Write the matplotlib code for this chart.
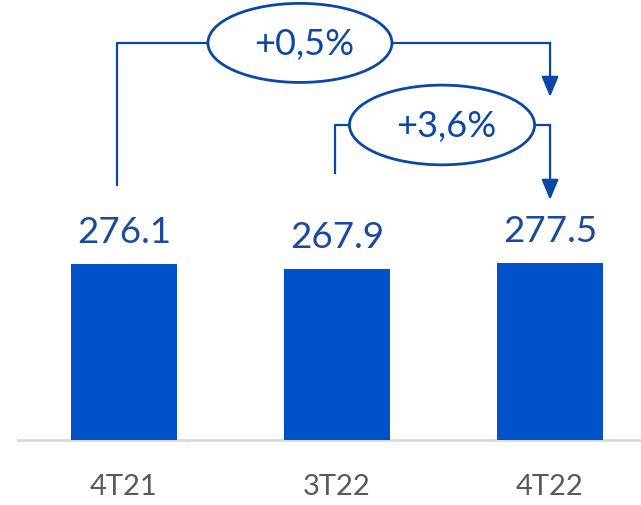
import matplotlib
matplotlib.use("Agg")
import matplotlib.pyplot as plt
from matplotlib.patches import Ellipse

plt.rcParams['font.family'] = ['Lato', 'DejaVu Sans']

trimestres = ['4T21', '3T22', '4T22']
valores = [276.1, 267.9, 277.5]
variaciones = ['+0,5%', '+3,6%']

azul_barra = '#0050c6'
azul_texto = '#1b4a9c'
azul_linea = '#0c47a6'
gris = '#595959'

fig = plt.figure(figsize=(6.41, 5.05), dpi=100)
ax = fig.add_axes([0, 0, 1, 1])
ax.set_xlim(-0.582, 2.427)
ax.set_ylim(-102, 690)
ax.axis('off')

x = list(range(len(trimestres)))
ax.bar(x, valores, width=0.5, color=azul_barra, zorder=2)
ax.plot([-0.498, 2.427], [0, 0], color='#d9d9d9', lw=2, zorder=1)

for xi, v in zip(x, valores):
    ax.annotate(f'{v:.1f}', (xi, v), xytext=(0, 15), textcoords='offset points',
                ha='center', va='baseline', fontsize=26.5, color=azul_texto)

for xi, t in zip(x, trimestres):
    ax.text(xi, -86, t, ha='center', va='baseline', fontsize=21, color=gris)


def flecha(x0, x1, y_base, y_top, y_punta, cx, ancho, alto, texto):
    # rama izquierda y tramo hasta la elipse
    ax.plot([x0, x0, cx - ancho / 2], [y_base, y_top, y_top], color=azul_linea, lw=1.6)
    # tramo derecho y flecha hacia abajo
    ax.plot([cx + ancho / 2, x1], [y_top, y_top], color=azul_linea, lw=1.6)
    ax.annotate('', xy=(x1, y_punta), xytext=(x1, y_top),
                arrowprops=dict(arrowstyle='-|>,head_length=0.62,head_width=0.26',
                                mutation_scale=20, color=azul_linea, lw=1.6,
                                shrinkA=0, shrinkB=0))
    ax.add_patch(Ellipse((cx, y_top), ancho, alto, fill=False, ec=azul_linea, lw=2))
    ax.text(cx + 0.02, y_top - 3, texto, ha='center', va='center', fontsize=26, color=azul_linea)


flecha(-0.033, 2, 400, 622.7, 538, 0.826, 0.864, 124, variaciones[0])
flecha(0.99, 2, 419, 494, 376.5, 1.493, 0.869, 125, variaciones[1])

fig.savefig('out.png', dpi=100)
